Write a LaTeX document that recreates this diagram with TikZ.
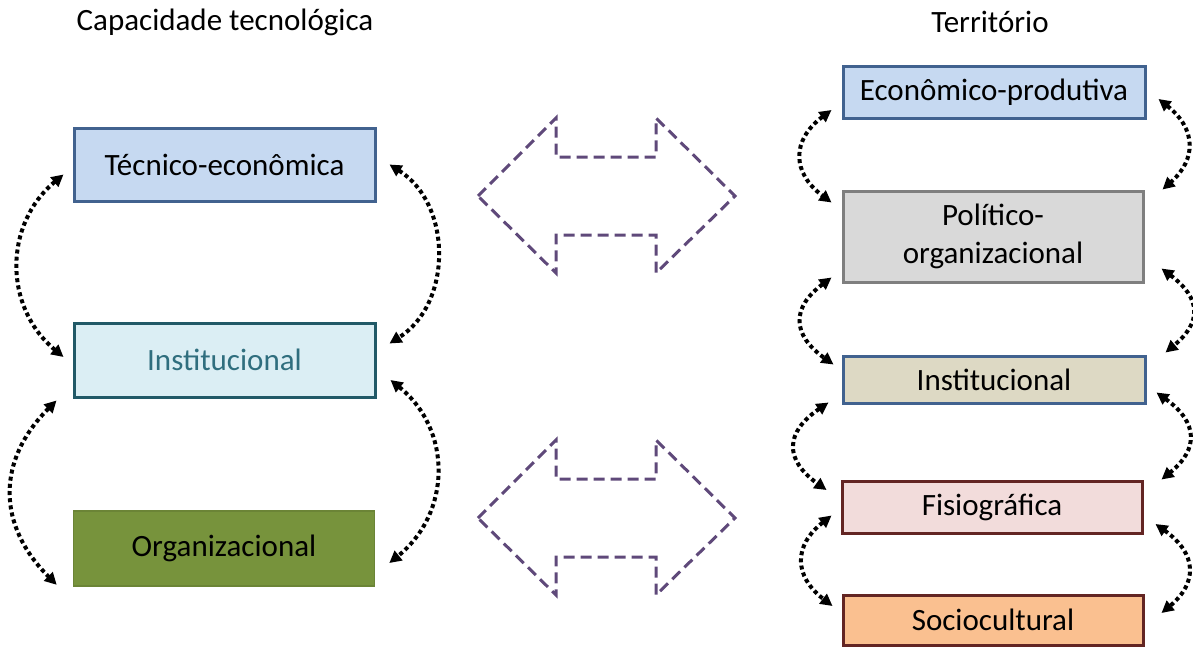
\documentclass[tikz,border=0pt]{standalone}
\usepackage{fontspec}
\setmainfont{Carlito}
\usetikzlibrary{arrows.meta}
\definecolor{bluefill}{HTML}{C6D9F1}
\definecolor{blueline}{HTML}{41628F}
\definecolor{tealfill}{HTML}{DBEEF4}
\definecolor{tealline}{HTML}{215967}
\definecolor{tealtext}{HTML}{2F6E7E}
\definecolor{olivefill}{HTML}{77933C}
\definecolor{grayfill}{HTML}{D9D9D9}
\definecolor{grayline}{HTML}{7F7F7F}
\definecolor{tanfill}{HTML}{DDD9C4}
\definecolor{pinkfill}{HTML}{F2DCDB}
\definecolor{redline}{HTML}{632523}
\definecolor{orangefill}{HTML}{FAC090}
\definecolor{arrowpurple}{HTML}{5F497A}
\begin{document}
\begin{tikzpicture}[x=0.5pt,y=-0.5pt,
  box/.style={draw,line width=1.5pt,minimum width=150.5pt,inner ysep=0pt,align=center,font=\fontsize{15.5}{19}\selectfont},
  title/.style={font=\fontsize{15.5}{19}\selectfont},
  link/.style={{Triangle[length=6pt,width=6pt]}-{Triangle[length=6pt,width=6pt]},line width=2pt,dash pattern=on 2pt off 1.6pt},
  bigarrow/.style={draw=arrowpurple,line width=1.5pt,dash pattern=on 5.5pt off 3pt,line join=miter}]
\useasboundingbox (0,0) rectangle (1193,648);
% titles
\node[title] (captitle) at (225,22) {Capacidade tecnológica};
\node[title] (tertitle) at (990,22) {Território};
% left column
\node[box,fill=bluefill,draw=blueline,minimum height=36.5pt] (tec) at (224.5,164.5) {Técnico-econômica};
\node[box,fill=tealfill,draw=tealline,text=tealtext,minimum height=37pt] (inst) at (224.5,360) {Institucional};
\node[box,fill=olivefill,draw=olivefill!90!black,line width=0.8pt,minimum height=37.5pt] (org) at (224,548.5) {Organizacional};
% right column
\node[box,fill=bluefill,draw=blueline,minimum width=151pt,minimum height=26pt] (eco) at (994,92) {Econômico-produtiva};
\node[box,fill=grayfill,draw=grayline,minimum width=150pt,minimum height=45.5pt] (pol) at (993,236.5) {Político-\\organizacional};
\node[box,fill=tanfill,draw=blueline,minimum width=151pt,minimum height=23.5pt] (ins) at (994,379.5) {Institucional};
\node[box,fill=pinkfill,draw=redline,minimum width=150pt,minimum height=26pt] (fis) at (992,507) {Fisiográfica};
\node[box,fill=orangefill,draw=redline,minimum width=150pt,minimum height=25pt] (soc) at (993,620) {Sociocultural};
% big double arrows
\foreach \y in {196,518} {
\draw[bigarrow] (478,\y) -- ++(78,-78) -- ++(0,39) -- ++(100,0) -- ++(0,-39) -- ++(79,78)
  -- ++(-79,77) -- ++(0,-38) -- ++(-100,0) -- ++(0,38) -- cycle;
}
% links, left column
\draw[link] ([shift={(-9,-28)}]tec.south west) .. controls +(-60,50) and +(-60,-50) .. ([shift={(-9,-3)}]inst.west);
\draw[link] ([shift={(13,0)}]tec.east) .. controls +(63,40) and +(63,-40) .. ([shift={(13,22)}]inst.north east);
\draw[link] ([shift={(-16,2)}]inst.south west) .. controls +(-60,60) and +(-60,-60) .. ([shift={(-16,-2)}]org.south west);
\draw[link] ([shift={(14,20)}]inst.east) .. controls +(62,50) and +(62,-50) .. ([shift={(14,14.5)}]org.east);
% links, right column
\draw[link] ([shift={(-10,18)}]eco.west) .. controls +(-40,30) and +(-40,-30) .. ([shift={(-10,13)}]pol.north west);
\draw[link] ([shift={(12,7)}]eco.east) .. controls +(38,30) and +(34,-30) .. ([shift={(18,0)}]pol.north east);
\draw[link] ([shift={(-10,-6)}]pol.south west) .. controls +(-40,30) and +(-42,-30) .. ([shift={(-8,-15)}]ins.west);
\draw[link] ([shift={(17,-15)}]pol.south east) .. controls +(40,30) and +(36,-30) .. ([shift={(19,-2)}]ins.north east);
\draw[link] ([shift={(-13,-2)}]ins.south west) .. controls +(-44,30) and +(-42,-30) .. ([shift={(-14,-17)}]fis.west);
\draw[link] ([shift={(10,-12)}]ins.south east) .. controls +(42,30) and +(37,-30) .. ([shift={(18,0)}]fis.north east);
\draw[link] ([shift={(-9,-19)}]fis.south west) .. controls +(-38,30) and +(-39,-30) .. ([shift={(-9,-14)}]soc.west);
\draw[link] ([shift={(12,17)}]fis.east) .. controls +(42,30) and +(36,-30) .. ([shift={(17,-7)}]soc.east);
\end{tikzpicture}
\end{document}
